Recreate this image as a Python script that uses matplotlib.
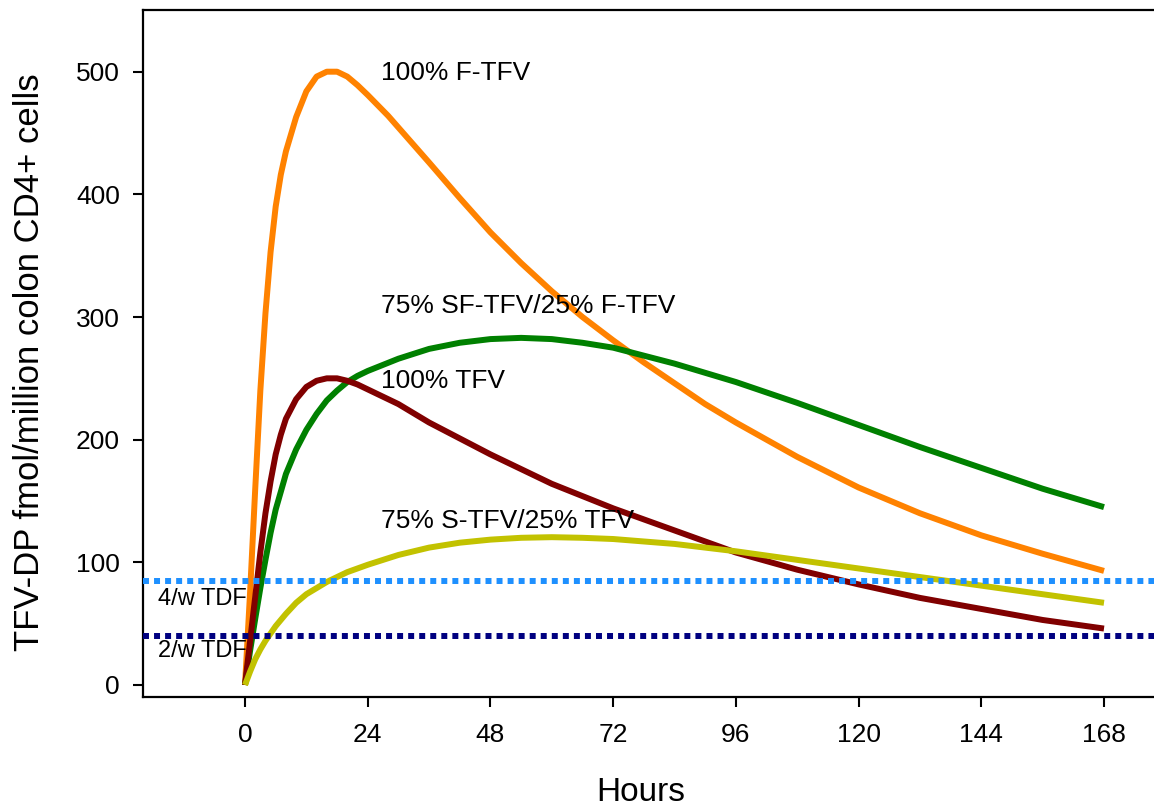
import matplotlib
matplotlib.use("Agg")
import matplotlib.pyplot as plt

plt.rcParams["font.family"] = ["Liberation Sans", "DejaVu Sans"]

# Modelled TFV-DP concentration in colon CD4+ cells after a single dose
hours_f_tfv = [0, 1, 2, 3, 4, 5, 6, 7, 8, 10, 12, 14, 16, 18, 20, 22, 24, 28, 32,
               36, 42, 48, 54, 60, 66, 72, 78, 84, 90, 96, 108, 120, 132, 144, 156, 168]
conc_f_tfv = [0, 76, 160, 240, 303, 353, 390, 416, 435, 463, 484, 496, 500, 500, 496, 489, 481, 464, 445,
              426, 397, 369, 344, 321, 300, 281, 263, 246, 229, 214, 186, 161, 140, 122, 107, 93]

hours_sf_tfv = [0, 1, 2, 3, 4, 5, 6, 8, 10, 12, 14, 16, 18, 20, 22, 24, 30, 36, 42,
                48, 54, 60, 66, 72, 84, 96, 108, 120, 132, 144, 156, 168]
conc_sf_tfv = [0, 28, 54, 79, 102, 124, 143, 172, 192, 208, 221, 232, 240, 247, 252, 256, 266, 274, 279,
               282, 283, 282, 279, 275, 262, 247, 230, 212, 194, 177, 160, 145]

hours_tfv = [0, 1, 2, 3, 4, 5, 6, 7, 8, 10, 12, 14, 16, 18, 20, 22, 24, 30, 36, 42,
             48, 60, 72, 84, 96, 108, 120, 132, 144, 156, 168]
conc_tfv = [0, 36, 72, 108, 140, 166, 188, 204, 217, 233, 243, 248, 250, 250, 248, 245, 241, 229, 214, 201,
            188, 164, 144, 126, 108, 94, 82, 71, 62, 53, 46]

hours_s_tfv = [0, 1, 2, 3, 4, 6, 8, 10, 12, 16, 20, 24, 30, 36, 42, 48, 54, 60, 66,
               72, 84, 96, 108, 120, 132, 144, 156, 168]
conc_s_tfv = [0, 11, 21, 29, 36, 48, 58, 67, 74, 84, 92, 98, 106, 112, 116, 118.5, 120, 120.5, 120,
              119, 115, 109, 102, 95, 88, 81, 74, 67]

# Reference levels from oral TDF dosing
tdf_4w = 85
tdf_2w = 40

series_labels = ["100% F-TFV", "75% SF-TFV/25% F-TFV", "100% TFV", "75% S-TFV/25% TFV"]
label_pos = [(26.6, 493.5), (26.6, 303), (26.6, 242), (26.6, 128)]
ref_labels = ["4/w TDF", "2/w TDF"]
ref_label_pos = [(-17, 65), (-17, 23)]
x_ticks = [0, 24, 48, 72, 96, 120, 144, 168]
y_ticks = [0, 100, 200, 300, 400, 500]

W, H = 1154, 807
fig = plt.figure(figsize=(W / 100, H / 100), dpi=100)
ax = fig.add_axes([143 / W, (H - 697) / H, (W - 143) / W, 687 / H])

lw = 4.3
ax.plot(hours_f_tfv, conc_f_tfv, color="#FF8200", lw=lw, solid_capstyle="butt",
        solid_joinstyle="round", zorder=3)
ax.plot(hours_sf_tfv, conc_sf_tfv, color="#008000", lw=lw, solid_capstyle="butt",
        solid_joinstyle="round", zorder=3)
ax.plot(hours_tfv, conc_tfv, color="#800000", lw=lw, solid_capstyle="butt",
        solid_joinstyle="round", zorder=3)
ax.plot(hours_s_tfv, conc_s_tfv, color="#C2C200", lw=lw, solid_capstyle="butt",
        solid_joinstyle="round", zorder=3)

ax.axhline(tdf_4w, color="#1E90FF", lw=4.3, linestyle=(0, (1.0, 0.85)),
           dash_capstyle="butt", zorder=4)
ax.axhline(tdf_2w, color="#000080", lw=4.3, linestyle=(0, (1.0, 0.85)),
           dash_capstyle="butt", zorder=4)

for txt, (x, y) in zip(series_labels, label_pos):
    ax.text(x, y, txt, fontsize=19, ha="left", va="baseline", zorder=5)
for txt, (x, y) in zip(ref_labels, ref_label_pos):
    ax.text(x, y, txt, fontsize=17, ha="left", va="baseline", zorder=5)

ax.set_xlim(-19.95, (W - 245) / 5.1131)
ax.set_ylim(-9.8, 550.3)
ax.set_xticks(x_ticks)
ax.set_yticks(y_ticks)
ax.tick_params(axis="both", labelsize=19, length=7.5, width=1.5, direction="out")
ax.tick_params(axis="x", pad=11)
ax.tick_params(axis="y", pad=9)
ax.spines["right"].set_visible(False)
for s in ["left", "top", "bottom"]:
    ax.spines[s].set_linewidth(1.6)

fig.text(30 / W, 1 - 362 / H, "TFV-DP fmol/million colon CD4+ cells", rotation=90,
         fontsize=25, ha="center", va="center")
fig.text(641 / W, (H - 801) / H, "Hours", fontsize=24, ha="center", va="baseline")

fig.savefig("out.png", dpi=100)
